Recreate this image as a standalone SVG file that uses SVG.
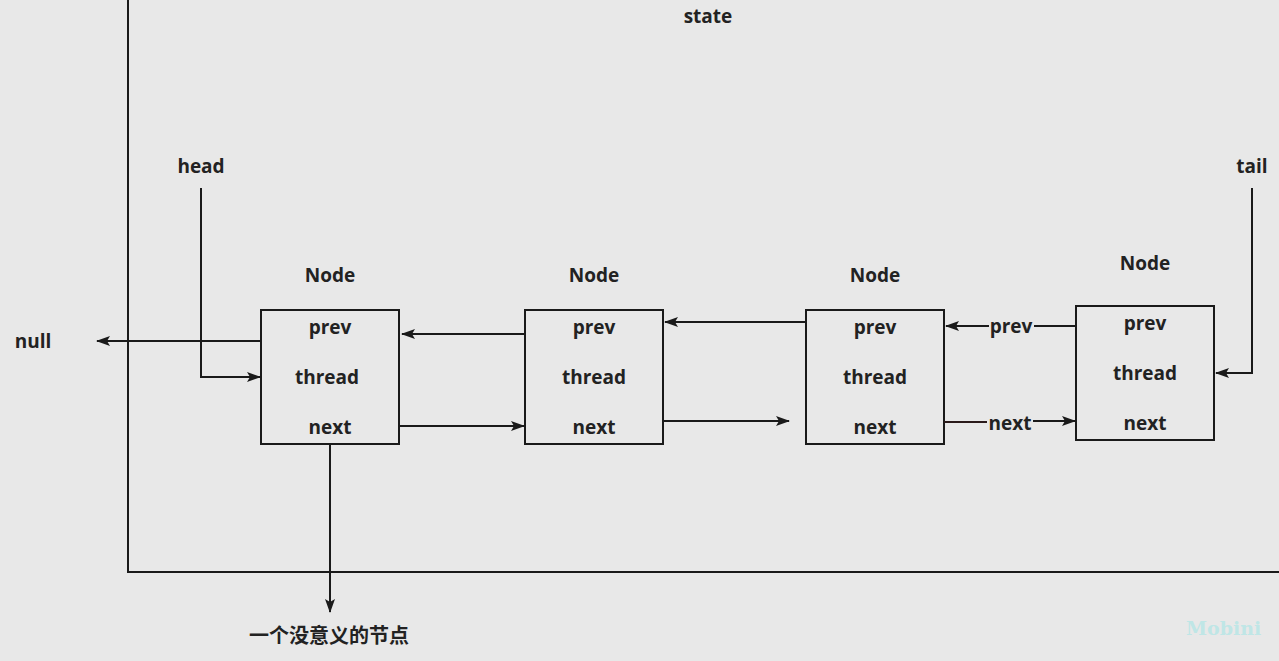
<svg xmlns="http://www.w3.org/2000/svg" width="1279" height="661" viewBox="0 0 1279 661">
<defs>
<style>
.t{font-family:"Open Sans","Noto Sans CJK SC",sans-serif;font-weight:bold;font-size:19px;fill:#222;}
.c{text-anchor:middle;}
.cjk{font-family:"Noto Sans CJK SC",sans-serif;font-size:20px;}
.box{fill:none;stroke:#1a1a1a;stroke-width:2;}
.ln{fill:none;stroke:#1a1a1a;stroke-width:2;}
.wm{font-family:"DejaVu Serif",serif;font-weight:bold;font-size:19px;fill:#bfe6e6;}
</style>
<marker id="ah" viewBox="0 0 14 10" refX="13" refY="5" markerWidth="14" markerHeight="10" markerUnits="userSpaceOnUse" orient="auto">
<path d="M0,0 L14,5 L0,10 L3,5 Z" fill="#1a1a1a"/>
</marker>
</defs>
<rect width="1279" height="661" fill="#e8e8e8"/>
<g id="state">
<path class="ln" d="M128,0 V572 H1279"/>
<text class="t c" x="708" y="23">state</text>
</g>
<g id="node1">
<text class="t c" x="330" y="282">Node</text>
<rect class="box" x="261" y="310" width="138" height="134"/>
<text class="t c" x="330" y="334">prev</text>
<text class="t c" x="327" y="384">thread</text>
<text class="t c" x="330" y="434">next</text>
</g>
<g id="node2">
<text class="t c" x="594" y="282">Node</text>
<rect class="box" x="525" y="310" width="138" height="134"/>
<text class="t c" x="594" y="334">prev</text>
<text class="t c" x="594" y="384">thread</text>
<text class="t c" x="594" y="434">next</text>
</g>
<g id="node3">
<text class="t c" x="875" y="282">Node</text>
<rect class="box" x="806" y="310" width="138" height="134"/>
<text class="t c" x="875" y="334">prev</text>
<text class="t c" x="875" y="384">thread</text>
<text class="t c" x="875" y="434">next</text>
</g>
<g id="node4">
<text class="t c" x="1145" y="270">Node</text>
<rect class="box" x="1076" y="306" width="138" height="134"/>
<text class="t c" x="1145" y="330">prev</text>
<text class="t c" x="1145" y="380">thread</text>
<text class="t c" x="1145" y="430">next</text>
</g>
<g id="head">
<text class="t c" x="201" y="173">head</text>
</g>
<g id="tail">
<text class="t c" x="1252" y="173">tail</text>
</g>
<g id="null">
<text class="t c" x="33" y="348">null</text>
</g>
<g id="dummy">
<text class="t c cjk" x="329" y="643">一个没意义的节点</text>
</g>
<g id="connectors">
<path class="ln" d="M261,341 H97" marker-end="url(#ah)"/>
<path class="ln" d="M201,188 V377 H260" marker-end="url(#ah)"/>
<path class="ln" d="M330,444 V612" marker-end="url(#ah)"/>
<path class="ln" d="M525,334 H402" marker-end="url(#ah)"/>
<path class="ln" d="M399,426 H524" marker-end="url(#ah)"/>
<path class="ln" d="M806,322 H665" marker-end="url(#ah)"/>
<path class="ln" d="M663,421 H789" marker-end="url(#ah)"/>
<path class="ln" d="M1076,326 H1034"/>
<path class="ln" d="M989,326 H946" marker-end="url(#ah)"/>
<text class="t c" x="1011" y="333">prev</text>
<path class="ln" d="M944,422 H987" style="stroke:#2a1a1a"/>
<path class="ln" d="M1033,421 H1075" marker-end="url(#ah)"/>
<text class="t c" x="1010" y="430">next</text>
<path class="ln" d="M1252,188 V373 H1216" marker-end="url(#ah)"/>
</g>
<text class="wm" x="1186" y="635">Mobini</text>
</svg>
